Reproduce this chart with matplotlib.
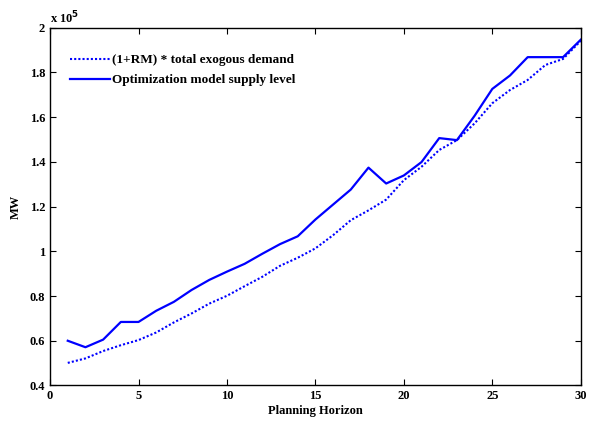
import numpy as np
import matplotlib
matplotlib.use("Agg")
from matplotlib import pyplot as plt

# planning horizon (years) and MW values in units of 1e5
years = np.arange(1, 31)
demand = [0.501, 0.521, 0.554, 0.580, 0.603, 0.637, 0.682, 0.722, 0.766, 0.801,
          0.844, 0.886, 0.935, 0.971, 1.013, 1.072, 1.139, 1.183, 1.231, 1.318,
          1.378, 1.453, 1.497, 1.572, 1.662, 1.721, 1.766, 1.833, 1.860, 1.941]
supply = [0.600, 0.571, 0.605, 0.684, 0.684, 0.734, 0.774, 0.827, 0.872, 0.909,
          0.944, 0.989, 1.032, 1.067, 1.142, 1.209, 1.276, 1.374, 1.303, 1.339,
          1.399, 1.506, 1.497, 1.606, 1.726, 1.786, 1.868, 1.868, 1.868, 1.946]
labels = ["(1+RM) * total exogous demand", "Optimization model supply level"]

plt.rcParams['font.family'] = ['Liberation Serif', 'DejaVu Serif']
plt.rcParams['font.weight'] = 'bold'

fig = plt.figure(figsize=(5.89, 4.25), dpi=100)
ax = fig.add_axes([0.085, 0.093, 0.901, 0.842])

ax.plot(years, demand, color='#0000ff', linestyle=(0, (1, 1)), linewidth=1.5, label=labels[0])
ax.plot(years, supply, color='#0000ff', linestyle='-', linewidth=1.6, label=labels[1])

ax.set_xlim(0, 30)
ax.set_ylim(0.4, 2.0)
ax.set_xticks(np.arange(0, 31, 5))
ax.set_yticks(np.arange(0.4, 2.01, 0.2))
ax.set_yticklabels(["0.4", "0.6", "0.8", "1", "1.2", "1.4", "1.6", "1.8", "2"])
ax.tick_params(direction='in', top=True, right=True, labelsize=9, length=4, width=0.8)
for lab in ax.get_xticklabels() + ax.get_yticklabels():
    lab.set_fontweight('bold')
for s in ax.spines.values():
    s.set_linewidth(1.0)

ax.set_xlabel("Planning Horizon", fontsize=9, fontweight='bold', labelpad=2)
ax.set_ylabel("MW", fontsize=9, fontweight='bold', labelpad=6)
ax.text(0.0, 1.005, r"x 10$^{5}$", transform=ax.transAxes, fontsize=9,
        fontweight='bold', ha='left', va='bottom')

ax.legend(loc='upper left', bbox_to_anchor=(-0.012, 1.0), frameon=False,
          handlelength=3.0, handletextpad=0.2, borderaxespad=1.6, labelspacing=0.6,
          prop={'weight': 'bold', 'size': 9.5})

fig.savefig("out.png", dpi=100)
